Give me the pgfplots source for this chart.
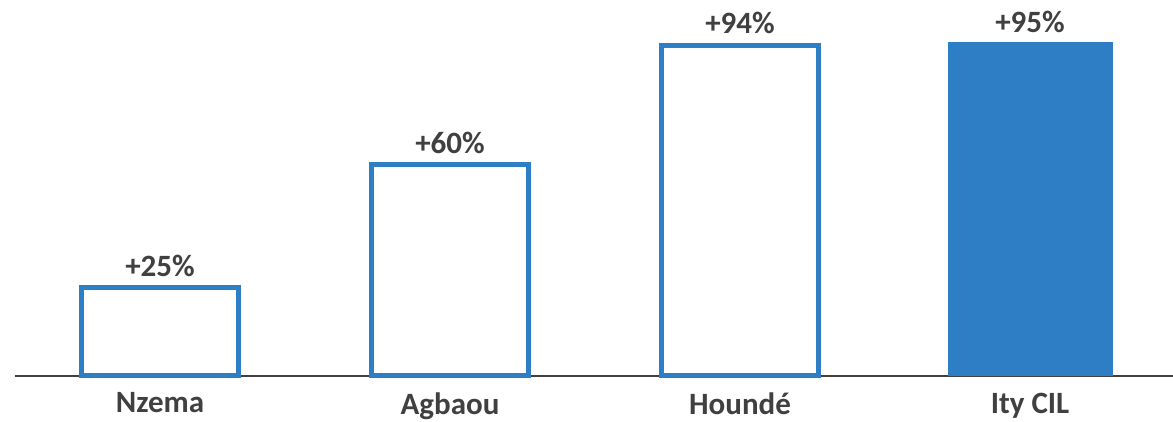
\documentclass[border=0pt]{standalone}
\usepackage{fontspec}
\setmainfont{Carlito}
\usepackage{pgfplots}
\pgfplotsset{compat=1.18}
\definecolor{barblue}{HTML}{2E7EC6}
\definecolor{txtgray}{HTML}{404040}
\begin{document}
\begin{tikzpicture}
\begin{axis}[
  scale only axis,
  width=1158pt, height=376pt,
  xmin=-0.5, xmax=3.493,
  ymin=0, ymax=106.8,
  axis y line=none,
  axis x line*=bottom,
  x axis line style={draw=txtgray, line width=1.8pt, -},
  xtick={0,1,2,3},
  xticklabels={Nzema,Agbaou,Houndé,Ity CIL},
  xtick style={draw=none},
  xticklabel style={font=\fontsize{31}{36}\selectfont\bfseries, text=txtgray, yshift=-9pt},
  ybar, bar shift=0pt,
  point meta=explicit symbolic,
  nodes near coords,
  nodes near coords style={font=\fontsize{31}{36}\selectfont\bfseries, text=txtgray, anchor=south, yshift=5pt},
  clip=false,
]
\addplot[draw=barblue, fill=white, line width=5pt, bar width=157pt] coordinates {(0,25) [+25\%] (1,60) [+60\%] (2,94) [+94\%]};
\addplot[draw=none, fill=barblue, bar width=165pt] coordinates {(3,95) [+95\%]};
\coordinate (bl) at (rel axis cs:0,0);
\end{axis}
\pgfresetboundingbox
\path (bl) ++(-15pt,-46pt) rectangle ++(1173pt,422pt);
\end{tikzpicture}
\end{document}
